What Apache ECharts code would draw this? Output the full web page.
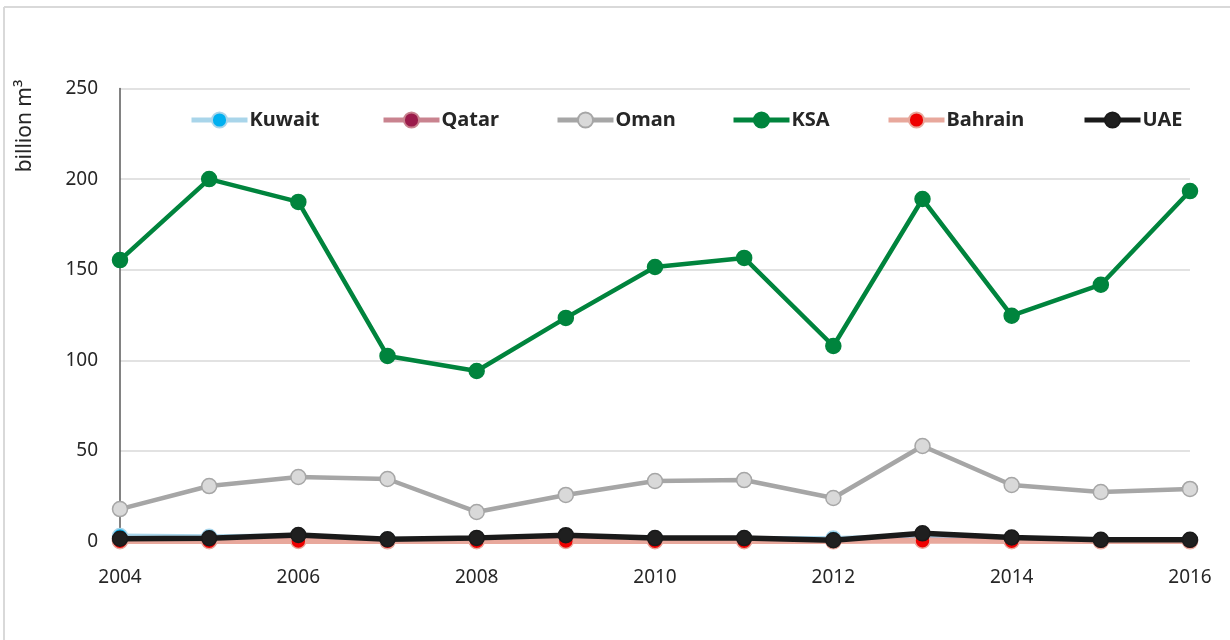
<!DOCTYPE html>
<html>
<head>
<meta charset="utf-8">
<script src="https://cdn.jsdelivr.net/npm/echarts@6/dist/echarts.min.js"></script>
<style>
html,body{margin:0;padding:0;background:#fff;}
#chart{width:1230px;height:640px;}
</style>
</head>
<body>
<div id="chart"></div>
<script>
const years = ['2004','2005','2006','2007','2008','2009','2010','2011','2012','2013','2014','2015','2016'];
const kuwait  = [3.0, 2.6, 3.2, 1.0, 1.6, 3.0, 1.6, 1.6, 1.6, 3.0, 1.8, 0.6, 0.6];
const qatar   = [0.6, 0.6, 0.8, 0.5, 0.6, 0.8, 0.6, 0.6, 0.4, 0.8, 0.6, 0.4, 0.4];
const oman    = [17.9, 30.6, 35.6, 34.5, 16.3, 25.7, 33.4, 33.9, 24.0, 52.7, 31.2, 27.3, 29.0];
const ksa     = [155.3, 200.0, 187.4, 102.4, 94.1, 123.4, 151.5, 156.5, 107.9, 189.0, 124.6, 141.7, 193.4];
const bahrain = [0.2, 0.2, 0.3, 0.1, 0.2, 0.3, 0.2, 0.2, 0.1, 0.4, 0.2, 0.1, 0.1];
const uae     = [1.5, 1.8, 3.6, 1.2, 2.0, 3.5, 1.9, 1.9, 0.7, 4.5, 2.2, 0.9, 0.9];
const yTicks  = [0, 50, 100, 150, 200, 250];

const font = 'Noto Sans';
const chart = echarts.init(document.getElementById('chart'));

function mk(name, data, lineColor, lineW, fill, border, z) {
  return {
    name: name, type: 'line', data: data,
    symbol: 'circle', symbolSize: 15, z: z,
    lineStyle: {color: lineColor, width: lineW},
    itemStyle: {color: fill, borderColor: border, borderWidth: 1.5},
    emphasis: {disabled: true},
    animation: false
  };
}

const legendPos = [
  ['Kuwait', 189], ['Qatar', 381], ['Oman', 555],
  ['KSA', 731], ['Bahrain', 886], ['UAE', 1082]
];

const option = {
  backgroundColor: '#ffffff',
  animation: false,
  grid: {left: 120, right: 40, top: 88.5, bottom: 98.5, containLabel: false},
  legend: legendPos.map(p => ({
    data: [p[0]], left: p[1], top: 110, padding: 0,
    itemWidth: 56, itemHeight: 19, itemGap: 4,
    lineStyle: {width: 5},
    textStyle: {fontFamily: font, fontSize: 20, fontWeight: 'bold', color: '#262626', padding: [0,0,0,-3]},
    selectedMode: false
  })),
  xAxis: {
    type: 'category', data: years, boundaryGap: false,
    axisLine: {show: true, lineStyle: {color: '#d9d9d9', width: 1.5}},
    axisTick: {show: false},
    axisLabel: {interval: 1, fontFamily: font, fontSize: 19, color: '#262626', margin: 27},
    splitLine: {show: false}
  },
  yAxis: {
    type: 'value', min: yTicks[0], max: yTicks[yTicks.length-1], interval: 50,
    axisLine: {show: true, lineStyle: {color: '#595959', width: 1.5}},
    axisTick: {show: false},
    axisLabel: {fontFamily: font, fontSize: 19, color: '#262626', margin: 22},
    splitLine: {show: true, lineStyle: {color: '#d9d9d9', width: 1.5}}
  },
  graphic: [
    {type: 'line', shape: {x1: 4, y1: 7, x2: 4, y2: 640}, style: {stroke: '#d9d9d9', lineWidth: 2}},
    {type: 'line', shape: {x1: 4, y1: 7, x2: 1230, y2: 7}, style: {stroke: '#d9d9d9', lineWidth: 2}},
    {type: 'text', x: 25, y: 126, rotation: Math.PI/2,
     style: {text: 'billion m³', fontFamily: font, fontSize: 21, fill: '#262626', align: 'center', verticalAlign: 'middle'}}
  ],
  series: [
    mk('Kuwait', kuwait, '#a9d5ea', 5, '#00b0f0', '#a9d5ea', 2),
    mk('Qatar', qatar, '#c9838f', 5, '#9b1b4b', '#c9838f', 3),
    mk('Oman', oman, '#a6a6a6', 4.5, '#d9d9d9', '#a6a6a6', 4),
    mk('KSA', ksa, '#00843d', 4.5, '#00843d', '#00843d', 5),
    mk('Bahrain', bahrain, '#e8a89c', 5.5, '#ee0000', '#e8a89c', 6),
    mk('UAE', uae, '#1a1a1a', 5.5, '#1f1f1f', '#1a1a1a', 7)
  ]
};
chart.setOption(option);
</script>
</body>
</html>
